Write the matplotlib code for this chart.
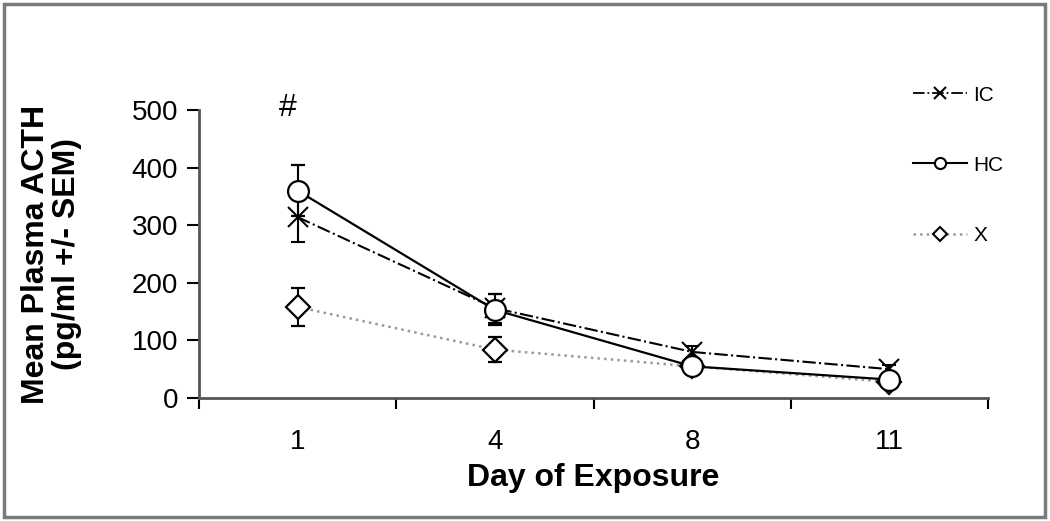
import matplotlib
matplotlib.use('Agg')
import matplotlib.pyplot as plt
from matplotlib.patches import Rectangle
from matplotlib.lines import Line2D

plt.rcParams['font.family'] = ['Liberation Sans', 'DejaVu Sans']

days = ['1', '4', '8', '11']
ic_mean = [314, 156, 80, 50]
ic_sem = [43, 25, 10, 8]
hc_mean = [360, 153, 55, 32]
hc_sem = [44, 27, 8, 6]
x_mean = [158, 84, 55, 28]
x_sem = [33, 22, 7, 5]
y_ticks = [0, 100, 200, 300, 400, 500]

pos = list(range(len(days)))

fig = plt.figure(figsize=(10.5, 5.21), dpi=100)
ax = fig.add_axes([199/1050, 1-398/521, (988-199)/1050, (398-110)/521])

# X series (grey dotted, diamonds)
ax.errorbar(pos, x_mean, yerr=x_sem, color='#9a9a9a', ls=':', lw=1.8,
            marker='D', ms=12, mfc='white', mec='black', mew=1.6,
            ecolor='black', elinewidth=1.5, capsize=5, capthick=1.5, zorder=2)
# IC series (dash-dot, x)
ax.errorbar(pos, ic_mean, yerr=ic_sem, color='black', ls='-.', lw=1.5,
            marker='x', ms=15, mec='black', mew=1.5,
            ecolor='black', elinewidth=1.5, capsize=5, capthick=1.5, zorder=3)
# HC series (solid, circles)
ax.errorbar(pos, hc_mean, yerr=hc_sem, color='black', ls='-', lw=1.6,
            marker='o', ms=15, mfc='white', mec='black', mew=1.6,
            ecolor='black', elinewidth=1.5, capsize=5, capthick=1.5, zorder=4)

ax.set_xlim(-0.5, len(days) - 0.5)
ax.set_ylim(0, 500)
ax.set_yticks(y_ticks)
ax.tick_params(axis='y', labelsize=20, length=9, width=1.5, direction='out', pad=6)

ax.set_xticks([p + 0.5 for p in [-1] + pos])
ax.set_xticklabels([])
ax.set_xticks(pos, minor=True)
ax.set_xticklabels(days, minor=True)
ax.tick_params(axis='x', which='major', length=8, width=1.5, direction='out')
ax.tick_params(axis='x', which='minor', length=0, labelsize=20, pad=22)

for s in ['top', 'right']:
    ax.spines[s].set_visible(False)
for s in ['left', 'bottom']:
    ax.spines[s].set_linewidth(2)
    ax.spines[s].set_color('#555555')

ax.set_xlabel('Day of Exposure', fontsize=23, fontweight='bold', labelpad=6)
ax.set_ylabel('Mean Plasma ACTH\n(pg/ml +/- SEM)', fontsize=23, fontweight='bold', labelpad=36,
              linespacing=1.05)

ax.text(-0.05, 503, '#', fontsize=23, ha='center', va='center')

handles = [
    Line2D([], [], color='black', ls='-.', lw=1.3, marker='x', ms=8, mew=1.5),
    Line2D([], [], color='black', ls='-', lw=1.5, marker='o', ms=8, mfc='white', mew=1.5),
    Line2D([], [], color='#9a9a9a', ls=':', lw=1.8, marker='D', ms=7, mfc='white', mec='black', mew=1.5),
]
ax.legend(handles, ['IC', 'HC', 'X'],
          loc='upper left', bbox_to_anchor=(894/1050, 1-67/521), bbox_transform=fig.transFigure,
          frameon=False, fontsize=15, handlelength=2.6, handletextpad=0.3,
          labelspacing=2.45)

fig.patches.append(Rectangle((4/1050, 4/521), 1041/1050, 513/521, transform=fig.transFigure,
                             fill=False, edgecolor='#7a7a7a', lw=2.5))

fig.savefig('out.png', dpi=100)
